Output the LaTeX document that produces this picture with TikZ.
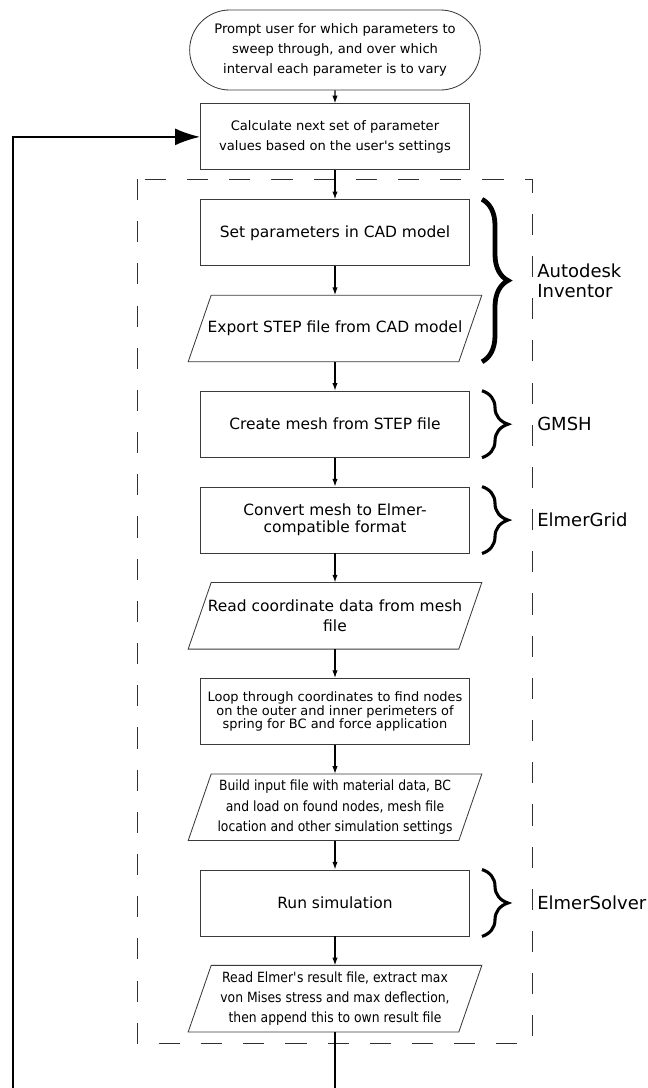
\documentclass[tikz,border=0pt]{standalone}
\usepackage{fontspec}
\setmainfont{DejaVu Sans}
\newfontfamily\condfont[FakeStretch=0.88]{DejaVu Sans}
\usetikzlibrary{arrows.meta,positioning,shapes.misc,decorations.pathreplacing,calc}
\definecolor{edgegray}{HTML}{3A3A3A}
\definecolor{dashgray}{HTML}{303030}
\tikzset{
  >=Latex,
  process/.style={
    rectangle, draw=edgegray, line width=0.6pt,
    minimum width=6.725cm, minimum height=1.65cm, align=center, inner sep=2pt
  },
  io/.style={
    rectangle, minimum width=6.75cm, minimum height=1.65cm, align=center, inner sep=1pt,
    append after command={\pgfextra{\draw[draw=edgegray, line width=0.6pt]
      ($(\tikzlastnode.south west)+(-11.5,0)$) -- ($(\tikzlastnode.south east)+(-11.5,0)$) --
      ($(\tikzlastnode.north east)+(11.5,0)$) -- ($(\tikzlastnode.north west)+(11.5,0)$) -- cycle;}}
  },
  terminal/.style={
    rounded rectangle, draw=edgegray, line width=0.6pt,
    minimum width=7.5cm, minimum height=2cm, align=center
  },
  smalltext/.style={font=\fontsize{9.3}{14.2}\selectfont},
  midtext/.style={font=\fontsize{11}{14.2}\selectfont},
  tighttext/.style={font=\fontsize{9.2}{9.4}\selectfont},
  condtext/.style={font=\condfont\fontsize{10}{14.5}\selectfont},
  arrow/.style={-{Latex[length=5.5pt,width=3.8pt]}, line width=0.9pt, draw=black},
  loopback/.style={-{Latex[length=6.2mm,width=4.2mm]}, line width=1.4pt, draw=black},
  bracket/.style={decorate, decoration={brace, amplitude=0.65cm}, draw=black},
  tool/.style={font=\fontsize{12.8}{14.2}\selectfont, align=left, anchor=west, inner sep=0pt},
  group/.style={draw=dashgray, line width=0.6pt, dash pattern=on 15pt off 15pt}
}
% brace beside a run of steps, with the program name
\newcommand{\toolbrace}[5]{
  \draw[bracket, line width=#3] (#1.north -| bx) -- (#2.south -| bx);
  \node[tool] (#4) at ($(#1.north -| bx)!0.5!(#2.south -| bx)+(55,0)$) {#5};
}

\begin{document}
\begin{tikzpicture}[x=0.025cm, y=-0.025cm, node distance=0.725cm]
\useasboundingbox (0,0) rectangle (648,1088);
\coordinate (bx) at (482,0);
\draw[group] (137,179) rectangle (532,1043);
\node[terminal, smalltext] (prompt) at (335,50) {Prompt user for which parameters to\\sweep through, and over which\\interval each parameter is to vary};
\node[process, smalltext, below=0.325cm of prompt] (calc) {Calculate next set of parameter\\values based on the user\textquotesingle s settings};
\node[process, midtext, below=of calc] (setcad) {Set parameters in CAD model};
\node[io, midtext, below=of setcad] (export) {Export STEP file from CAD model};
\node[process, midtext, below=of export] (mesh) {Create mesh from STEP file};
\node[process, font=\fontsize{11}{12}\selectfont, below=of mesh] (convert) {Convert mesh to Elmer-\\compatible format};
\node[io, midtext, below=of convert] (readco) {Read coordinate data from mesh\\file};
\node[process, tighttext, below=of readco] (loopn) {Loop through coordinates to find nodes\\on the outer and inner perimeters of\\spring for BC and force application};
\node[io, condtext, below=of loopn] (build) {Build input file with material data, BC\\and load on found nodes, mesh file\\location and other simulation settings};
\node[process, midtext, below=of build] (run) {Run simulation};
\node[io, condtext, below=of run] (result) {Read Elmer\textquotesingle s result file, extract max\\von Mises stress and max deflection,\\then append this to own result file};
\draw[arrow] (prompt) -- (calc);
\draw[arrow] (calc) -- (setcad);
\draw[arrow] (setcad) -- (export);
\draw[arrow] (export) -- (mesh);
\draw[arrow] (mesh) -- (convert);
\draw[arrow] (convert) -- (readco);
\draw[arrow] (readco) -- (loopn);
\draw[arrow] (loopn) -- (build);
\draw[arrow] (build) -- (run);
\draw[arrow] (run) -- (result);
\draw[loopback] (result.south) -- ++(0,90) -| ($(calc.west)+(-187,0)$) -- (calc.west);
\toolbrace{setcad}{export}{3.4pt}{inv}{Autodesk\\Inventor}
\toolbrace{mesh}{mesh}{2.2pt}{gmsh}{GMSH}
\toolbrace{convert}{convert}{2.2pt}{grid}{ElmerGrid}
\toolbrace{run}{run}{2.2pt}{solver}{ElmerSolver}
\end{tikzpicture}
\end{document}
